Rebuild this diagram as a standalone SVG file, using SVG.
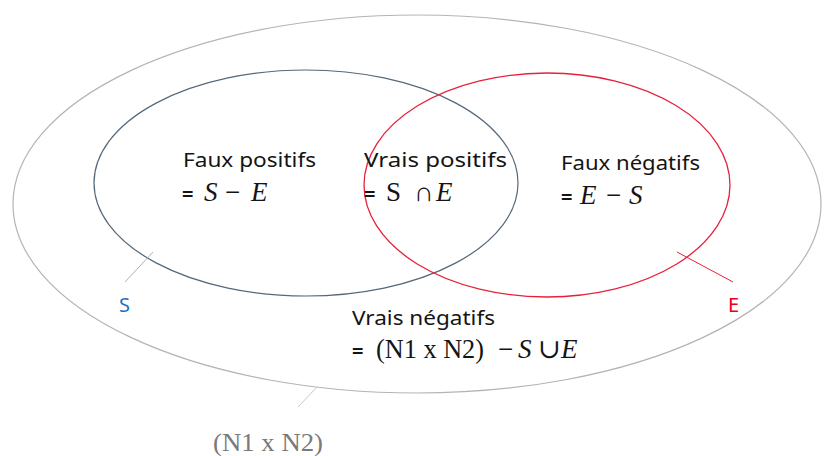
<svg xmlns="http://www.w3.org/2000/svg" width="824" height="456" viewBox="0 0 824 456">
<style>
.lbl{font-family:"Noto Sans","Open Sans","Liberation Sans",sans-serif;font-size:20px;fill:#141414}
.m{font-family:"Liberation Serif","DejaVu Serif",serif;font-size:27px;fill:#141414}
.i{font-style:italic}
.eq{font-family:"Noto Sans","Liberation Sans",sans-serif;font-size:20px;font-weight:bold;fill:#141414}
.lead{fill:none;stroke-width:1}
</style>
<rect width="824" height="456" fill="#ffffff"/>
<g id="universe">
<ellipse cx="417" cy="204" rx="404" ry="189" fill="none" stroke="#b4b4b4" stroke-width="1.2"/>
</g>
<g id="S">
<ellipse cx="306" cy="183" rx="212" ry="113" fill="none" stroke="#55687a" stroke-width="1.2"/>
</g>
<g id="E">
<ellipse cx="547" cy="185" rx="183" ry="112" fill="none" stroke="#e8213b" stroke-width="1.3"/>
</g>
<g id="connectors">
<line class="lead" x1="153" y1="252" x2="125" y2="282" stroke="#b0b0b0"/>
<line class="lead" x1="677" y1="252" x2="733" y2="282" stroke="#e8213b"/>
<line class="lead" x1="317" y1="387" x2="298" y2="407" stroke="#c8c8c8"/>
</g>
<g id="label-S"><text x="119" y="312" font-family="'Noto Sans',sans-serif" font-size="20" fill="#1f70b8">S</text></g>
<g id="label-E"><text x="728" y="312" font-family="'Noto Sans',sans-serif" font-size="20" fill="#e8001c">E</text></g>
<g id="label-universe"><text x="213" y="451" class="m" style="fill:#7a7a7a;font-size:25px" textLength="110" lengthAdjust="spacingAndGlyphs">(N1 x N2)</text></g>
<g id="faux-positifs">
<text class="lbl" x="183" y="167" textLength="133" lengthAdjust="spacingAndGlyphs">Faux positifs</text>
<text class="eq" x="182" y="201">=</text>
<text class="m i" x="204" y="201">S</text>
<text class="m" x="225" y="201">−</text>
<text class="m i" x="251" y="201">E</text>
</g>
<g id="vrais-positifs">
<text class="lbl" x="364" y="167" textLength="143" lengthAdjust="spacingAndGlyphs">Vrais positifs</text>
<text class="eq" x="364" y="201">=</text>
<text class="m" x="386" y="201">S</text>
<text class="m" x="414" y="201">∩</text>
<text class="m i" x="436" y="201">E</text>
</g>
<g id="faux-negatifs">
<text class="lbl" x="561" y="170" textLength="139" lengthAdjust="spacingAndGlyphs">Faux négatifs</text>
<text class="eq" x="561" y="204">=</text>
<text class="m i" x="580" y="204">E</text>
<text class="m" x="606" y="204">−</text>
<text class="m i" x="629" y="204">S</text>
</g>
<g id="vrais-negatifs">
<text class="lbl" x="352" y="325" textLength="143" lengthAdjust="spacingAndGlyphs">Vrais négatifs</text>
<text class="eq" x="352" y="358">=</text>
<text class="m" x="376" y="358" textLength="108" lengthAdjust="spacingAndGlyphs">(N1 x N2)</text>
<text class="m" x="498" y="358">−</text>
<text class="m i" x="518" y="358">S</text>
<text class="m" x="538" y="358">∪</text>
<text class="m i" x="561" y="358">E</text>
</g>
</svg>
